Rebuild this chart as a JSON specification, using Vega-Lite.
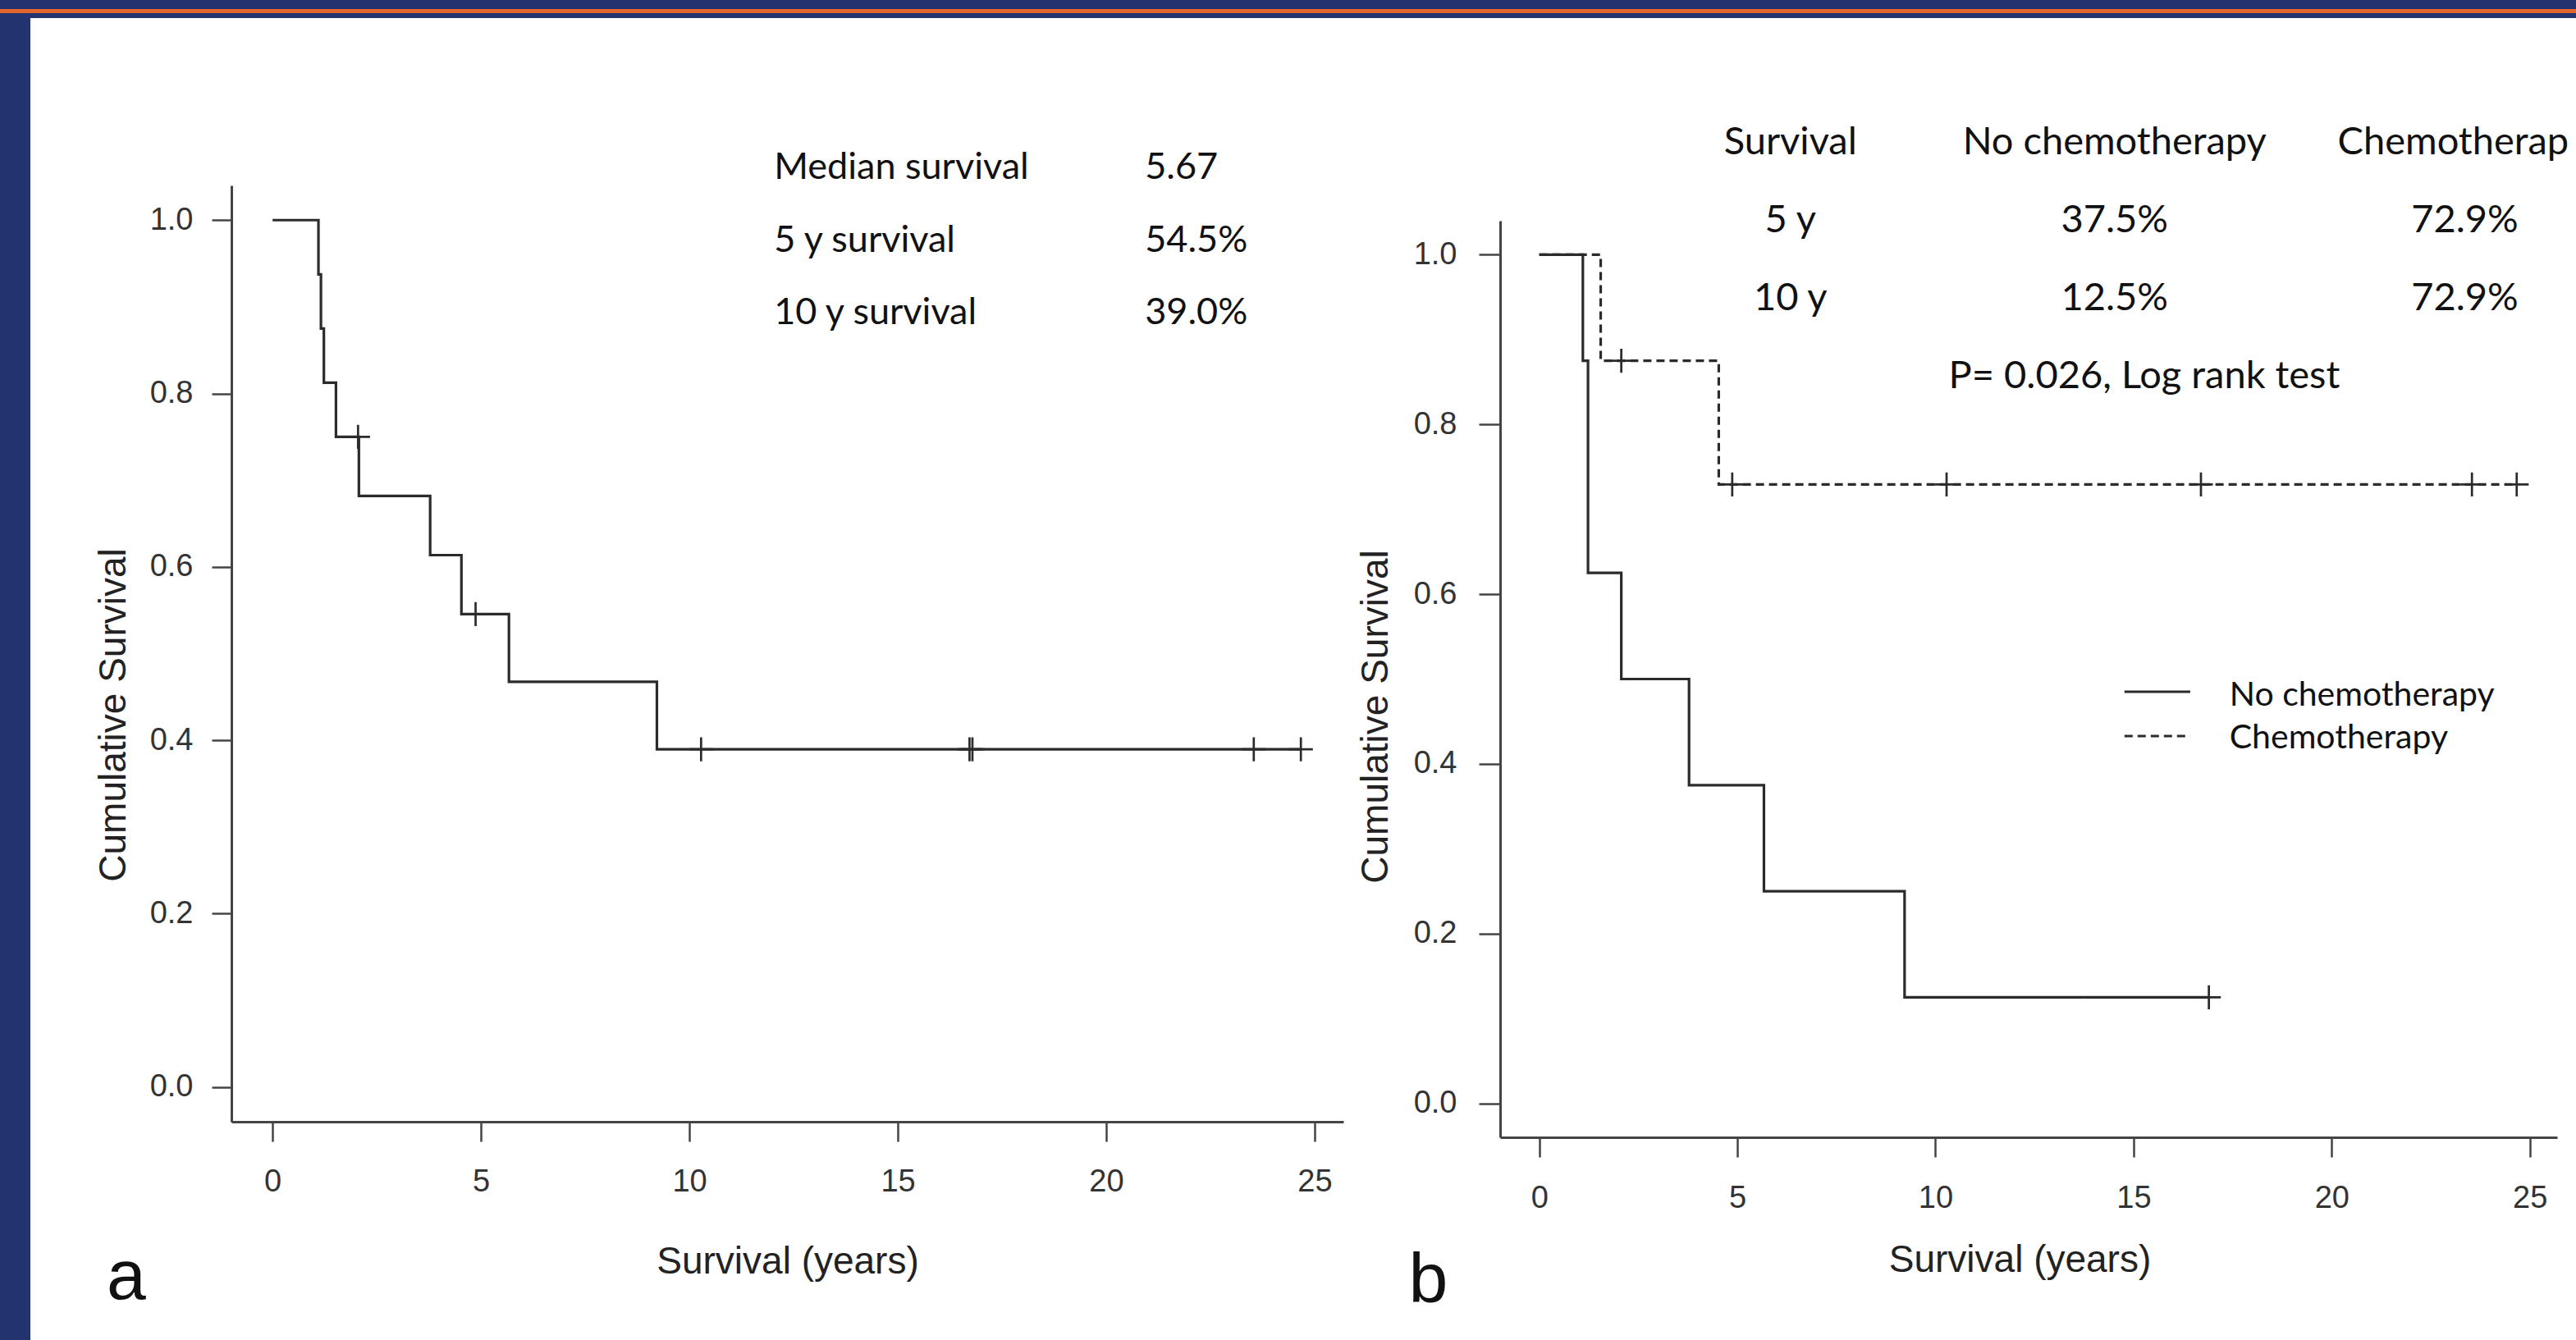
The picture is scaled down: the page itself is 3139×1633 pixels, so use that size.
{
  "$schema": "https://vega.github.io/schema/vega-lite/v6.json",
  "background": "white",
  "padding": 0,
  "bounds": "flush",
  "spacing": 0,
  "config": {
    "view": {"stroke": null},
    "axis": {
      "grid": false,
      "domainColor": "#444444",
      "domainWidth": 3,
      "tickColor": "#444444",
      "tickWidth": 2.5,
      "labelFont": "Liberation Sans",
      "labelFontSize": 38,
      "labelColor": "#333333",
      "labelFlush": false,
      "labelOverlap": false,
      "labelBound": false,
      "titleFont": "Liberation Sans",
      "titleFontSize": 46,
      "titleFontWeight": "normal",
      "titleColor": "#222222"
    }
  },
  "datasets": {
    "leftCurve": [
      {"time": 0, "surv": 1},
      {"time": 1.10, "surv": 0.9375},
      {"time": 1.16, "surv": 0.875},
      {"time": 1.23, "surv": 0.8125},
      {"time": 1.52, "surv": 0.75},
      {"time": 2.07, "surv": 0.6818},
      {"time": 3.78, "surv": 0.6136},
      {"time": 4.53, "surv": 0.5455},
      {"time": 5.67, "surv": 0.4675},
      {"time": 9.22, "surv": 0.3896},
      {"time": 24.67, "surv": 0.3896}
    ],
    "leftCensor": [
      {"time": 2.05, "surv": 0.75},
      {"time": 4.87, "surv": 0.5455},
      {"time": 10.28, "surv": 0.3896},
      {"time": 16.72, "surv": 0.3896},
      {"time": 16.79, "surv": 0.3896},
      {"time": 23.54, "surv": 0.3896},
      {"time": 24.67, "surv": 0.3896}
    ],
    "rightCurve": [
      {"group": "No chemotherapy", "time": 0, "surv": 1},
      {"group": "No chemotherapy", "time": 1.10, "surv": 0.875},
      {"group": "No chemotherapy", "time": 1.23, "surv": 0.625},
      {"group": "No chemotherapy", "time": 2.07, "surv": 0.5},
      {"group": "No chemotherapy", "time": 3.78, "surv": 0.375},
      {"group": "No chemotherapy", "time": 5.67, "surv": 0.25},
      {"group": "No chemotherapy", "time": 9.22, "surv": 0.125},
      {"group": "No chemotherapy", "time": 16.9, "surv": 0.125},
      {"group": "Chemotherapy", "time": 0, "surv": 1},
      {"group": "Chemotherapy", "time": 1.55, "surv": 0.875},
      {"group": "Chemotherapy", "time": 4.53, "surv": 0.7292},
      {"group": "Chemotherapy", "time": 24.67, "surv": 0.7292}
    ],
    "rightCensor": [
      {"group": "No chemotherapy", "time": 16.9, "surv": 0.125},
      {"group": "Chemotherapy", "time": 2.07, "surv": 0.875},
      {"group": "Chemotherapy", "time": 4.87, "surv": 0.7292},
      {"group": "Chemotherapy", "time": 10.28, "surv": 0.7292},
      {"group": "Chemotherapy", "time": 16.7, "surv": 0.7292},
      {"group": "Chemotherapy", "time": 23.54, "surv": 0.7292},
      {"group": "Chemotherapy", "time": 24.67, "surv": 0.7292}
    ]
  },
  "vconcat": [
    {"width": 3139, "height": 11, "view": {"fill": "#22336f", "stroke": null}, "data": {"values": []}, "mark": "point"},
    {"width": 3139, "height": 5, "view": {"fill": "#e5652e", "stroke": null}, "data": {"values": []}, "mark": "point"},
    {"width": 3139, "height": 6, "view": {"fill": "#22336f", "stroke": null}, "data": {"values": []}, "mark": "point"},
    {
      "bounds": "flush",
      "spacing": 0,
      "hconcat": [
        {"width": 37, "height": 1611, "view": {"fill": "#22336f", "stroke": null}, "data": {"values": []}, "mark": "point"},
        {
          "width": 3102,
          "height": 1611,
          "resolve": {"scale": {"x": "independent", "y": "independent"}, "axis": {"x": "independent", "y": "independent"}},
          "layer": [
            {
              "layer": [
                {
                  "data": {"name": "leftCurve"},
                  "mark": {"type": "line", "interpolate": "step-after", "color": "#2b2b2b", "strokeWidth": 3.2},
                  "encoding": {
                    "x": {"field": "time", "type": "quantitative",
                      "scale": {"domain": [-0.988, 25.69], "range": [245, 1600], "nice": false, "zero": false},
                      "axis": {"orient": "bottom", "offset": -266, "values": [0, 5, 10, 15, 20, 25], "format": "d", "title": "Survival (years)", "tickSize": 24, "labelPadding": 30, "titlePadding": 56}},
                    "y": {"field": "surv", "type": "quantitative",
                      "scale": {"domain": [-0.04, 1.04], "range": [1345, 204], "nice": false, "zero": false},
                      "axis": {"orient": "left", "offset": -245, "values": [0, 0.2, 0.4, 0.6, 0.8, 1], "format": ".1f", "title": "Cumulative Survival", "tickSize": 24, "labelPadding": 23, "titlePadding": 19.5, "titleY": 849}}
                  }
                },
                {
                  "data": {"name": "leftCensor"},
                  "mark": {"type": "point", "shape": "M-1,0H1M0,-1V1", "filled": false, "size": 850, "strokeWidth": 2.7, "color": "#2b2b2b", "opacity": 1},
                  "encoding": {
                    "x": {"field": "time", "type": "quantitative"},
                    "y": {"field": "surv", "type": "quantitative"}
                  }
                },
                {
                  "data": {"values": [{"label": "Median survival\n5 y survival\n10 y survival", "value": "5.67\n54.5%\n39.0%"}]},
                  "layer": [
                    {
                      "mark": {"type": "text", "align": "left", "baseline": "alphabetic", "lineBreak": "\n", "lineHeight": 88.5, "font": "Lato", "fontSize": 45, "color": "#111111"},
                      "encoding": {"x": {"datum": 12.03}, "y": {"datum": 1.0473}, "text": {"field": "label"}}
                    },
                    {
                      "mark": {"type": "text", "align": "left", "baseline": "alphabetic", "lineBreak": "\n", "lineHeight": 88.5, "font": "Lato", "fontSize": 45, "color": "#111111"},
                      "encoding": {"x": {"datum": 20.93}, "y": {"datum": 1.0473}, "text": {"field": "value"}}
                    }
                  ]
                },
                {
                  "data": {"values": [{"panel": "a"}]},
                  "mark": {"type": "text", "align": "left", "baseline": "alphabetic", "font": "Liberation Sans", "fontSize": 86, "color": "#111111"},
                  "encoding": {"x": {"datum": -3.98}, "y": {"datum": -0.2441}, "text": {"field": "panel"}}
                }
              ]
            },
            {
              "layer": [
                {
                  "data": {"name": "rightCurve"},
                  "mark": {"type": "line", "interpolate": "step-after", "color": "#2b2b2b", "strokeWidth": 3.2},
                  "encoding": {
                    "x": {"field": "time", "type": "quantitative",
                      "scale": {"domain": [-0.988, 25.69], "range": [1791, 3079], "nice": false, "zero": false},
                      "axis": {"orient": "bottom", "offset": -247, "values": [0, 5, 10, 15, 20, 25], "format": "d", "title": "Survival (years)", "tickSize": 24, "labelPadding": 31, "titlePadding": 34, "titleX": 2424}},
                    "y": {"field": "surv", "type": "quantitative",
                      "scale": {"domain": [-0.04, 1.04], "range": [1364, 247], "nice": false, "zero": false},
                      "axis": {"orient": "left", "offset": -1791, "values": [0, 0.2, 0.4, 0.6, 0.8, 1], "format": ".1f", "title": "Cumulative Survival", "tickSize": 26, "labelPadding": 27, "titlePadding": 22, "titleY": 851}},
                    "strokeDash": {"field": "group", "type": "nominal",
                      "scale": {"domain": ["No chemotherapy", "Chemotherapy"], "range": [[1, 0], [10, 6]]},
                      "legend": null}
                  }
                },
                {
                  "data": {"name": "rightCensor"},
                  "mark": {"type": "point", "shape": "M-1,0H1M0,-1V1", "filled": false, "size": 850, "strokeWidth": 2.7, "color": "#2b2b2b", "opacity": 1},
                  "encoding": {
                    "x": {"field": "time", "type": "quantitative"},
                    "y": {"field": "surv", "type": "quantitative"}
                  }
                },
                {
                  "data": {"values": [{"c1": "Survival\n5 y\n10 y", "c2": "No chemotherapy\n37.5%\n12.5%", "c3h": "Chemotherapy", "c3": "72.9%\n72.9%", "p": "P= 0.026, Log rank test", "legend": "No chemotherapy\nChemotherapy"}]},
                  "layer": [
                    {
                      "mark": {"type": "text", "align": "center", "baseline": "alphabetic", "lineBreak": "\n", "lineHeight": 95, "font": "Lato", "fontSize": 47, "color": "#111111"},
                      "encoding": {"x": {"datum": 6.34}, "y": {"datum": 1.1179}, "text": {"field": "c1"}}
                    },
                    {
                      "mark": {"type": "text", "align": "center", "baseline": "alphabetic", "lineBreak": "\n", "lineHeight": 95, "font": "Lato", "fontSize": 47, "color": "#111111"},
                      "encoding": {"x": {"datum": 14.52}, "y": {"datum": 1.1179}, "text": {"field": "c2"}}
                    },
                    {
                      "mark": {"type": "text", "align": "left", "baseline": "alphabetic", "font": "Lato", "fontSize": 47, "color": "#111111", "limit": 292, "ellipsis": "\u200b"},
                      "encoding": {"x": {"datum": 20.15}, "y": {"datum": 1.1179}, "text": {"field": "c3h"}}
                    },
                    {
                      "mark": {"type": "text", "align": "center", "baseline": "alphabetic", "lineBreak": "\n", "lineHeight": 95, "font": "Lato", "fontSize": 47, "color": "#111111"},
                      "encoding": {"x": {"datum": 23.36}, "y": {"datum": 1.0261}, "text": {"field": "c3"}}
                    },
                    {
                      "mark": {"type": "text", "align": "center", "baseline": "alphabetic", "font": "Lato", "fontSize": 47, "color": "#111111"},
                      "encoding": {"x": {"datum": 15.27}, "y": {"datum": 0.8425}, "text": {"field": "p"}}
                    },
                    {
                      "mark": {"type": "text", "align": "left", "baseline": "alphabetic", "lineBreak": "\n", "lineHeight": 52, "font": "Lato", "fontSize": 41, "color": "#111111"},
                      "encoding": {"x": {"datum": 17.42}, "y": {"datum": 0.4686}, "text": {"field": "legend"}}
                    },
                    {
                      "mark": {"type": "rule", "color": "#2b2b2b", "strokeWidth": 3},
                      "encoding": {"x": {"datum": 14.77}, "x2": {"datum": 16.43}, "y": {"datum": 0.485}}
                    },
                    {
                      "mark": {"type": "rule", "color": "#2b2b2b", "strokeWidth": 3, "strokeDash": [10, 6]},
                      "encoding": {"x": {"datum": 14.77}, "x2": {"datum": 16.43}, "y": {"datum": 0.4329}}
                    }
                  ]
                },
                {
                  "data": {"values": [{"panel": "b"}]},
                  "mark": {"type": "text", "align": "left", "baseline": "alphabetic", "font": "Liberation Sans", "fontSize": 86, "color": "#111111"},
                  "encoding": {"x": {"datum": -3.3}, "y": {"datum": -0.2348}, "text": {"field": "panel"}}
                }
              ]
            }
          ]
        }
      ]
    }
  ]
}
